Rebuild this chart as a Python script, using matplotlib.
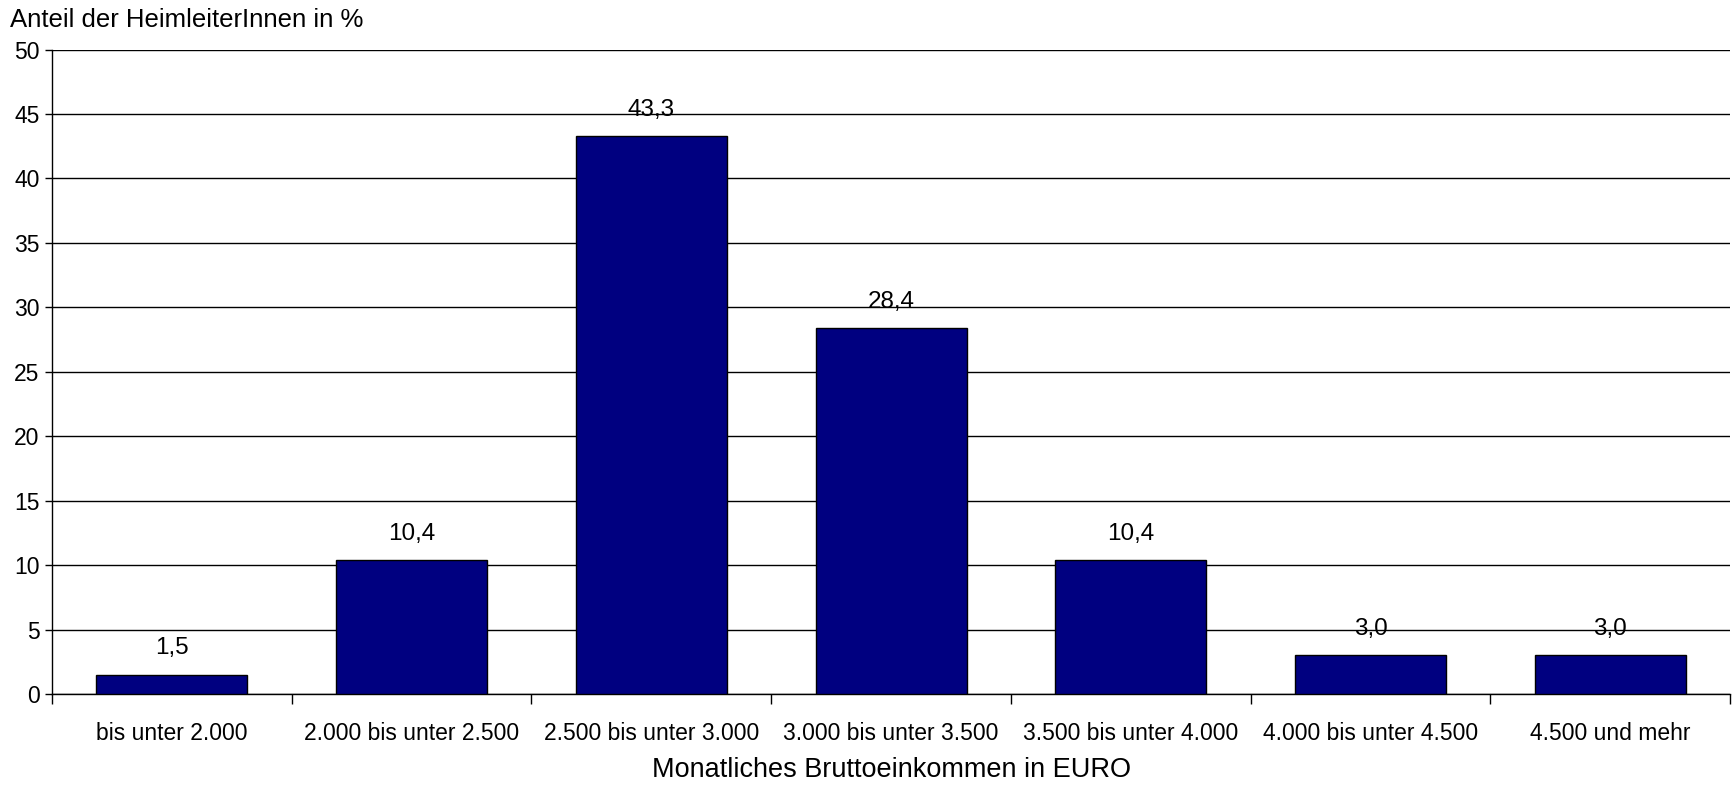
import matplotlib
matplotlib.use('Agg')
from matplotlib import pyplot as plt
import numpy as np

categories = ['bis unter 2.000', '2.000 bis unter 2.500', '2.500 bis unter 3.000',
              '3.000 bis unter 3.500', '3.500 bis unter 4.000', '4.000 bis unter 4.500',
              '4.500 und mehr']
values = [1.5, 10.4, 43.3, 28.4, 10.4, 3.0, 3.0]
labels = ['1,5', '10,4', '43,3', '28,4', '10,4', '3,0', '3,0']
yticks = [0, 5, 10, 15, 20, 25, 30, 35, 40, 45, 50]

plt.rcParams['font.family'] = ['Liberation Sans', 'DejaVu Sans']

fig = plt.figure(figsize=(17.34, 7.86), dpi=100)
ax = fig.add_axes([0.030, 0.117, 0.9677, 0.820])

x = np.arange(len(categories))
ax.bar(x, values, width=0.63, color='#000080', edgecolor='black', linewidth=1, zorder=3)

# Werte über den Balken
for xi, v, lab in zip(x, values, labels):
    ax.annotate(lab, (xi, v), xytext=(0, 11), textcoords='offset points',
                ha='center', va='bottom', fontsize=17.5)

ax.set_xlim(-0.5, len(categories) - 0.5)
ax.set_ylim(0, 50)
ax.set_yticks(yticks)
ax.yaxis.grid(True, color='black', linewidth=1, zorder=0)
ax.tick_params(axis='y', labelsize=16.5, length=5, width=1, pad=4)

# Ticks zwischen den Kategorien, Beschriftung in der Mitte
ax.set_xticks(np.arange(len(categories) + 1) - 0.5)
ax.set_xticklabels([])
ax.set_xticks(x, minor=True)
ax.set_xticklabels(categories, minor=True)
ax.tick_params(axis='x', which='major', length=7, width=1)
ax.tick_params(axis='x', which='minor', length=0, labelsize=16.5, pad=20)

for side in ['top', 'right']:
    ax.spines[side].set_visible(False)
ax.spines['left'].set_linewidth(1)
ax.spines['bottom'].set_linewidth(1)

fig.text(0.0058, 0.975, 'Anteil der HeimleiterInnen in %', fontsize=18.5, ha='left', va='center')
ax.set_xlabel('Monatliches Bruttoeinkommen in EURO', fontsize=19.5, labelpad=9)

fig.savefig('out.png', dpi=100)
